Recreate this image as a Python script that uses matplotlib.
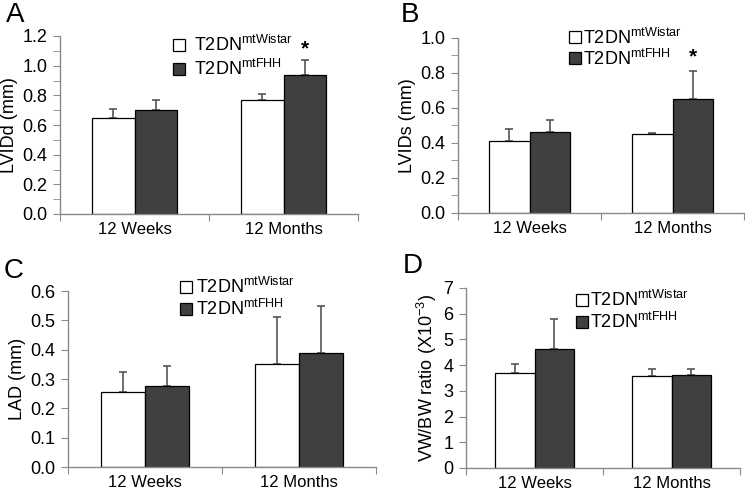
import matplotlib
matplotlib.use("Agg")
import matplotlib.pyplot as plt
from matplotlib.patches import Patch
import numpy as np

plt.rcParams['font.family'] = ['Liberation Sans', 'DejaVu Sans']
plt.rcParams['mathtext.fontset'] = 'custom'
plt.rcParams['mathtext.rm'] = 'Liberation Sans'
plt.rcParams['mathtext.it'] = 'Liberation Sans:italic'
plt.rcParams['mathtext.bf'] = 'Liberation Sans:bold'
plt.rcParams['mathtext.default'] = 'regular'

categories = ["12 Weeks", "12 Months"]
series = ["T2DN$^{mtWistar}$", "T2DN$^{mtFHH}$"]

lvidd_wistar = [0.645, 0.77]
lvidd_wistar_err = [0.065, 0.04]
lvidd_fhh = [0.70, 0.94]
lvidd_fhh_err = [0.07, 0.10]

lvids_wistar = [0.41, 0.45]
lvids_wistar_err = [0.07, 0.005]
lvids_fhh = [0.46, 0.65]
lvids_fhh_err = [0.07, 0.16]

lad_wistar = [0.255, 0.35]
lad_wistar_err = [0.07, 0.16]
lad_fhh = [0.275, 0.39]
lad_fhh_err = [0.07, 0.16]

vwbw_wistar = [3.68, 3.58]
vwbw_wistar_err = [0.35, 0.27]
vwbw_fhh = [4.63, 3.62]
vwbw_fhh_err = [1.15, 0.23]

W, H = 745, 492
fig = plt.figure(figsize=(W / 100, H / 100), dpi=100)

def px_axes(left, right, top, bottom):
    return fig.add_axes([left / W, 1 - bottom / H, (right - left) / W, (bottom - top) / H])

dark = "#404040"
axcol = "#8a8a8a"

def panel(ax, wv, we, fv, fe, ylim, major, minor, fmt, ylabel, letter, letter_xy,
          leg_px, leg_sp, leg_pad, star=None):
    x = np.arange(len(categories))
    bw = 0.286
    ax.bar(x - bw / 2, wv, bw, color="white", edgecolor="black", linewidth=0.9, zorder=2)
    ax.bar(x + bw / 2, fv, bw, color=dark, edgecolor="black", linewidth=0.9, zorder=2)
    ax.errorbar(x - bw / 2, wv, yerr=[np.zeros(len(we)), we], fmt="none",
                ecolor="#555555", elinewidth=1.2, capsize=3, capthick=1.2, zorder=1)
    ax.errorbar(x + bw / 2, fv, yerr=[np.zeros(len(fe)), fe], fmt="none",
                ecolor="#555555", elinewidth=1.2, capsize=3, capthick=1.2, zorder=1)
    ax.set_xlim(-0.5, 1.5)
    ax.set_ylim(*ylim)
    for s in ["top", "right"]:
        ax.spines[s].set_visible(False)
    for s in ["left", "bottom"]:
        ax.spines[s].set_color(axcol)
        ax.spines[s].set_linewidth(1.0)
    ax.set_xticks([-0.5, 0.5, 1.5])
    ax.set_xticklabels([])
    ax.set_xticks(x, minor=True)
    ax.set_xticklabels(categories, minor=True, fontsize=12)
    ax.tick_params(axis="x", which="major", length=5, color=axcol, direction="out")
    ax.tick_params(axis="x", which="minor", length=0, pad=6)
    ax.set_yticks(major)
    ax.set_yticklabels([fmt.format(v) for v in major], fontsize=13)
    if minor is not None:
        ax.set_yticks(minor, minor=True)
    ax.tick_params(axis="y", which="both", length=5, color=axcol, direction="out", pad=4)
    ax.set_ylabel(ylabel, fontsize=13, labelpad=3)
    ax.text(letter_xy[0], letter_xy[1], letter, transform=fig.transFigure,
            fontsize=20, ha="left", va="top")
    handles = [Patch(facecolor="white", edgecolor="black", linewidth=0.9),
               Patch(facecolor=dark, edgecolor="black", linewidth=0.9)]
    ax.legend(handles, series, loc="center left",
              bbox_to_anchor=(leg_px[0] / W, 1 - leg_px[1] / H),
              bbox_transform=fig.transFigure, frameon=False,
              fontsize=13, handlelength=0.65, handleheight=0.65, handletextpad=leg_pad,
              labelspacing=leg_sp, borderaxespad=0, borderpad=0)
    if star is not None:
        ax.text(star[0], star[1], "*", ha="center", va="center", fontsize=15,
                fontweight="bold")

axA = px_axes(60, 358, 36, 214)
panel(axA, lvidd_wistar, lvidd_wistar_err, lvidd_fhh, lvidd_fhh_err, (0, 1.2),
      np.arange(0, 1.21, 0.2), np.arange(0, 1.21, 0.1), "{:.1f}", "LVIDd (mm)",
      "A", (6 / W, 1 - 2 / H), (173, 57), 0.2, 0.5, star=(1 + 0.143, 1.11))

axB = px_axes(458, 744, 38, 213)
panel(axB, lvids_wistar, lvids_wistar_err, lvids_fhh, lvids_fhh_err, (0, 1.0),
      np.arange(0, 1.01, 0.2), np.arange(0, 1.01, 0.1), "{:.1f}", "LVIDs (mm)",
      "B", (401 / W, 1 - 2 / H), (569, 48), 0.05, 0.1, star=(1 + 0.143, 0.89))

axC = px_axes(68, 376, 291, 467)
panel(axC, lad_wistar, lad_wistar_err, lad_fhh, lad_fhh_err, (0, 0.6),
      np.arange(0, 0.61, 0.1), None, "{:.1f}", "LAD (mm)",
      "C", (4 / W, 1 - 258 / H), (180, 298), 0.12, 0.25)

axD = px_axes(466, 740, 288, 468)
panel(axD, vwbw_wistar, vwbw_wistar_err, vwbw_fhh, vwbw_fhh_err, (0, 7),
      np.arange(0, 8, 1), None, "{:.0f}", "VW/BW ratio (X10$^{-3}$)",
      "D", (403 / W, 1 - 253 / H), (576, 311), 0.12, 0.15)

fig.savefig("out.png", dpi=100)
